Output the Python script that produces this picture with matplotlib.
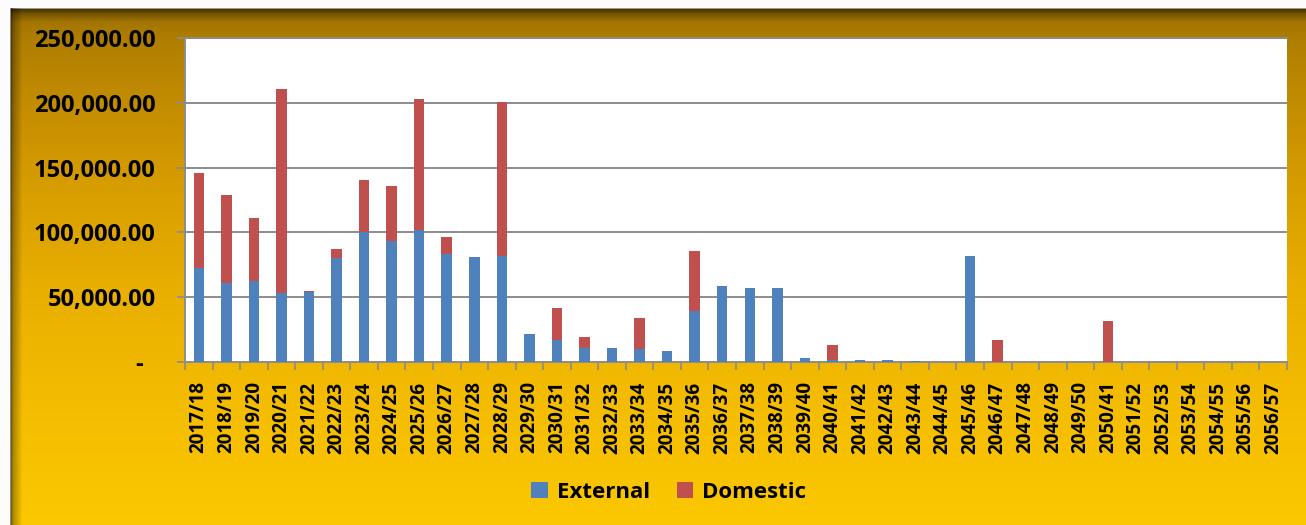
import numpy as np
import matplotlib.pyplot as plt
from matplotlib.ticker import FixedLocator, FuncFormatter

years = ["2017/18", "2018/19", "2019/20", "2020/21", "2021/22", "2022/23", "2023/24",
         "2024/25", "2025/26", "2026/27", "2027/28", "2028/29", "2029/30", "2030/31",
         "2031/32", "2032/33", "2033/34", "2034/35", "2035/36", "2036/37", "2037/38",
         "2038/39", "2039/40", "2040/41", "2041/42", "2042/43", "2043/44", "2044/45",
         "2045/46", "2046/47", "2047/48", "2048/49", "2049/50", "2050/41", "2051/52",
         "2052/53", "2053/54", "2054/55", "2055/56", "2056/57"]
external = [72200, 60700, 62500, 53100, 53800, 80400, 100500, 93100, 101500, 83700,
            80900, 82100, 21700, 16800, 11000, 10500, 10200, 8400, 39000, 58700,
            57400, 56900, 3100, 1800, 1500, 1500, 1000, 0, 81600, 0,
            0, 0, 0, 0, 0, 0, 0, 0, 0, 0]
domestic = [73500, 67900, 48700, 157200, 700, 6600, 39800, 42400, 101600, 12500,
            500, 118900, 0, 25000, 8100, 0, 23700, 0, 46700, 0,
            0, 0, 0, 11700, 0, 0, 0, 0, 0, 16800,
            0, 0, 0, 31900, 0, 0, 0, 0, 0, 0]
y_ticks = [0, 50000, 100000, 150000, 200000, 250000]

BLUE = "#4F81BD"
RED = "#C0504D"
GRID = "#8C8C8C"

plt.rcParams["font.family"] = ["Open Sans", "DejaVu Sans"]
plt.rcParams["font.weight"] = "bold"

W, H = 1306, 525
fig = plt.figure(figsize=(W / 100, H / 100), dpi=100)

# gold frame background
stops_y = [8, 9, 14, 22, 40, 120, 200, 300, 400, 525]
stops_c = ["#9a9a9a", "#4a3500", "#7a5800", "#a47600", "#b07f00", "#c89000",
           "#daa000", "#eab000", "#f4bc00", "#fbc800"]
rgb = np.array([[int(c[i:i + 2], 16) / 255 for i in (1, 3, 5)] for c in stops_c])
ys = np.arange(H)
col = np.stack([np.interp(ys, stops_y, rgb[:, k]) for k in range(3)], axis=1)
img = np.repeat(col[:, None, :], W, axis=1)
shade = np.interp(np.arange(W), [10, 11, 13, 22], [0.55, 0.5, 0.7, 1.0])
img = img * shade[None, :, None]
img[:, 10, :] = 0.55
img[:8, :, :] = 0.99
img[:, :10, :] = 0.99
bg = fig.add_axes([0, 0, 1, 1], zorder=-5)
bg.imshow(img, aspect="auto", extent=(0, W, H, 0), interpolation="nearest")
bg.set_axis_off()

ax = fig.add_axes([185 / W, 163 / H, 1102 / W, 324 / H])
x = np.arange(len(years))
ax.bar(x, external, width=0.38, color=BLUE, linewidth=0, label="External", zorder=3)
ax.bar(x, domestic, width=0.38, bottom=external, color=RED, linewidth=0,
       label="Domestic", zorder=3)

ax.set_xlim(-0.5, len(years) - 0.5)
ax.set_ylim(0, 250000)
ax.set_facecolor("white")
ax.set_yticks(y_ticks)
ax.yaxis.set_major_formatter(FuncFormatter(lambda v, p: "-  " if v == 0 else f"{v:,.2f}"))
ax.grid(axis="y", color=GRID, linewidth=1.4, zorder=0)
ax.tick_params(axis="y", length=6, width=1.2, color=GRID, pad=15, labelsize=17)

ax.set_xticks(x)
ax.set_xticklabels(years, rotation=90, fontsize=13.5, fontweight="bold")
ax.tick_params(axis="x", which="major", length=0, pad=14)
ax.xaxis.set_minor_locator(FixedLocator(np.arange(-0.5, len(years), 1.0)))
ax.tick_params(axis="x", which="minor", length=6, width=1.2, color=GRID)

for s in ["left", "bottom", "top"]:
    ax.spines[s].set_color(GRID)
    ax.spines[s].set_linewidth(1.4)
ax.spines["right"].set_visible(False)

fig.legend(loc="center", bbox_to_anchor=(669 / W, 33 / H), ncol=2, frameon=False,
           prop={"size": 16, "weight": "bold"}, handlelength=0.75, handleheight=0.75,
           handletextpad=0.4, columnspacing=1.2)

fig.savefig("out.png", dpi=100)
